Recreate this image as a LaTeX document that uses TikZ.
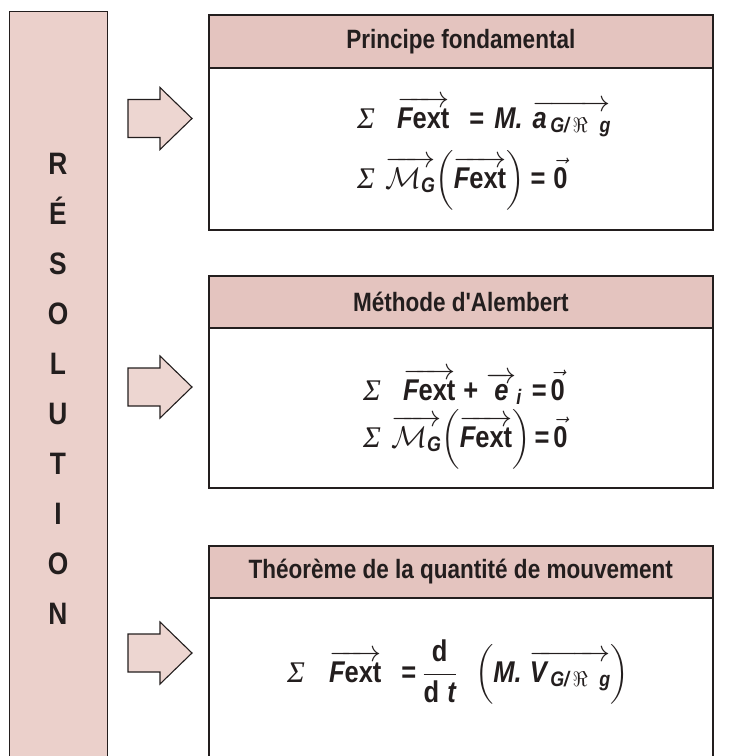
\documentclass[tikz,border=0pt]{standalone}
\usepackage{fix-cm}
\usepackage{amsmath}
\usepackage{fontspec}
\newfontfamily\cond[FakeStretch=0.85]{Liberation Sans}
\newfontfamily\sig{Liberation Serif}
\newcommand\cb{\cond\bfseries\upshape}
\newcommand\cbi{\cond\bfseries\itshape}
\definecolor{colpink}{RGB}{235,208,203}
\definecolor{headpink}{RGB}{228,196,191}
\definecolor{arrowpink}{RGB}{237,214,209}
\definecolor{linec}{RGB}{35,30,30}
\tikzset{
 colst/.style={fill=colpink, draw=linec, line width=1.3pt, inner sep=0, anchor=north west},
 boxst/.style={fill=white, draw=linec, line width=1.6pt, inner sep=0, anchor=north west, minimum width=504pt},
 headst/.style={fill=headpink, draw=linec, line width=1.6pt, inner sep=0, anchor=north west, minimum width=504pt, minimum height=52pt, font=\fontsize{26.5}{31}\selectfont\cb, text=linec},
 arrowst/.style={fill=arrowpink, draw=linec, line width=1.1pt, line join=miter},
 letter/.style={font=\fontsize{31}{36}\selectfont\cb, inner sep=0, anchor=base, text=linec},
 eq/.style={font=\fontsize{30}{36}\selectfont, inner sep=0, anchor=base west, text=linec},
}
\begin{document}
\begin{tikzpicture}[x=1pt,y=-1pt]
\useasboundingbox (0,0) rectangle (741,756);
% left column
\node[colst, minimum width=98pt, minimum height=770pt] (col) at (9,11) {};
\foreach \l [count=\i from 0] in {R,É,S,O,L,U,T,I,O,N}
  \node[letter] (L\i) at (58,174.5+50*\i) {\l};
% arrows
\foreach \y [count=\k] in {118.5,387,653}
  \draw[arrowst] (128,\y-19) -- (160,\y-19) -- (160,\y-31) -- (192,\y)
     -- (160,\y+31) -- (160,\y+19) -- (128,\y+19) -- cycle;
% box 1
\node[boxst, minimum height=215pt] (box1) at (208,14) {};
\node[headst, minimum height=53pt] (h1) at (208,14) {Principe fondamental};
\node[eq] (e11) at (357,128) {{\sig\itshape Σ}\hspace{22pt}$\overrightarrow{\text{\cbi F\cb ext}}$\hspace{20pt}{\cb =}\hspace{10pt}{\cbi M.}\hspace{10pt}$\overrightarrow{\text{\cbi a}_{\,\text{\cbi G/}\,\Re\;\;\text{\cbi g}}}$};
\node[eq] (e12) at (357,188) {{\sig\itshape Σ}\hspace{10pt}$\overrightarrow{\mathcal{M}_{\text{\cbi G}}}\Bigl(\overrightarrow{\text{\cbi F\cb ext}}\Bigr)$\hspace{6pt}{\cb =}\hspace{8pt}$\vec{\text{\cb 0}}$};
% box 2
\node[boxst, minimum height=212pt] (box2) at (208,275) {};
\node[headst] (h2) at (208,275) {Méthode d'Alembert};
\node[eq] (e21) at (363,400) {{\sig\itshape Σ}\hspace{22pt}$\overrightarrow{\text{\cbi F\cb ext}}$\hspace{8pt}{\cb +}\hspace{8pt}$\overrightarrow{\text{\cbi e}}_{\text{\cbi i}}$\hspace{10pt}{\cb =}\hspace{4pt}$\vec{\text{\cb 0}}$};
\node[eq] (e22) at (363,447) {{\sig\itshape Σ}\hspace{10pt}$\overrightarrow{\mathcal{M}_{\text{\cbi G}}}\Bigl(\overrightarrow{\text{\cbi F\cb ext}}\Bigr)$\hspace{4pt}{\cb =}\hspace{4pt}$\vec{\text{\cb 0}}$};
% box 3
\node[boxst, minimum height=240pt] (box3) at (208,545) {};
\node[headst] (h3) at (208,545) {Théorème de la quantité de mouvement};
\node[eq] (e31) at (287,682) {{\sig\itshape Σ}\hspace{24pt}$\overrightarrow{\text{\cbi F\cb ext}}$\hspace{20pt}{\cb =}\hspace{6pt}$\dfrac{\text{\cb\,d\,}}{\text{\cb d\;\cbi t}}$\hspace{18pt}$\Bigl(\text{\cbi M.}\hspace{8pt}\overrightarrow{\text{\cbi V}_{\,\text{\cbi G/}\,\Re\;\;\text{\cbi g}}}\Bigr)$};
\end{tikzpicture}
\end{document}
